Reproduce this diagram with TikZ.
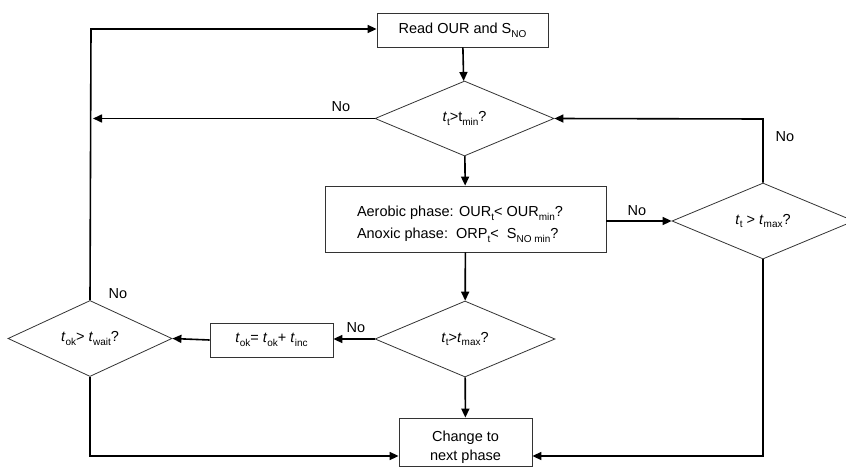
\documentclass[tikz,border=0pt]{standalone}
\usepackage{fontspec}
\setmainfont{Liberation Sans}
\usetikzlibrary{shapes.geometric,arrows.meta}
\newcommand{\lsub}[1]{\raisebox{-0.5ex}{\fontsize{10}{12}\selectfont #1}}
\tikzset{
  mainfont/.style={font=\fontsize{14.5}{19}\selectfont},
  box/.style={draw=black!80, line width=0.8pt, rectangle, align=center, inner sep=0pt, mainfont},
  dia/.style={draw=black!80, line width=0.8pt, diamond, inner sep=0pt, mainfont},
  conn/.style={line width=1.6pt, -{Triangle[length=9pt,width=8pt]}},
  lbl/.style={mainfont, inner sep=0pt}
}
\begin{document}
\begin{tikzpicture}[x=1pt,y=-1pt]
\useasboundingbox (0,0) rectangle (846,471);
% nodes
\node[box, minimum width=171pt, minimum height=34pt] (read) at (462.5,30) {Read OUR and S\lsub{NO}};
\node[dia, minimum width=179pt, minimum height=75pt] (d1) at (464.5,118.5) {\textit{t}\lsub{t}>t\lsub{min}?};
\node[box, minimum width=281pt, minimum height=66pt] (mid) at (465.5,219) {};
\node[mainfont, align=left, inner sep=0pt] (midtext) at (460,224) {Aerobic phase: OUR\lsub{t}< OUR\lsub{min}?\\[3pt]Anoxic phase:\ \ ORP\lsub{t}<\ \ S\lsub{NO min}?};
\node[dia, minimum width=182pt, minimum height=76pt] (d2) at (763,221) {\textit{t}\lsub{t} > \textit{t}\lsub{max}?};
\node[dia, minimum width=180pt, minimum height=76pt] (d3) at (465,339) {\textit{t}\lsub{t}>\textit{t}\lsub{max}?};
\node[box, minimum width=123pt, minimum height=34pt] (inc) at (271.5,340) {\textit{t}\lsub{ok}= \textit{t}\lsub{ok}+ \textit{t}\lsub{inc}};
\node[dia, minimum width=164pt, minimum height=76pt] (d4) at (90,338.5) {\textit{t}\lsub{ok}> \textit{t}\lsub{wait}?};
\node[box, minimum width=133pt, minimum height=48pt] (chg) at (465.5,442) {};
\node[mainfont, align=center, inner sep=0pt] (chgtext) at (465.5,447) {Change to\\next phase};
% coordinates
\coordinate (tl) at (91,29);
\coordinate (nl) at (93,118.5);
\coordinate (bl) at (90,456);
\coordinate (tr) at (763,119);
\coordinate (br) at (763,456);
% connectors
\draw[conn] (read) -- (d1);
\draw[conn] (d1.west) -- (nl);
\draw[conn] (d1) -- (mid);
\draw[conn] (mid.east |- d2.west) -- (d2.west);
\draw[conn] (d2.north) -- (tr) -- (d1.east);
\draw[conn] (d2.south) -- (br) -- (chg.east |- br);
\draw[conn] (mid) -- (d3);
\draw[conn] (d3.west) -- (inc.east |- d3.west);
\draw[conn] (inc.west) -- (d4.east);
\draw[conn] (d4.north) -- (tl) -- (read.west |- tl);
\draw[conn] (d4.south) -- (bl) -- (chg.west |- bl);
\draw[conn] (d3) -- (chg);
% labels
\node[lbl] (n1) at (341,107) {No};
\node[lbl] (n2) at (637,211) {No};
\node[lbl] (n3) at (785,137) {No};
\node[lbl] (n4) at (356,328) {No};
\node[lbl] (n5) at (118,294) {No};
\end{tikzpicture}
\end{document}
